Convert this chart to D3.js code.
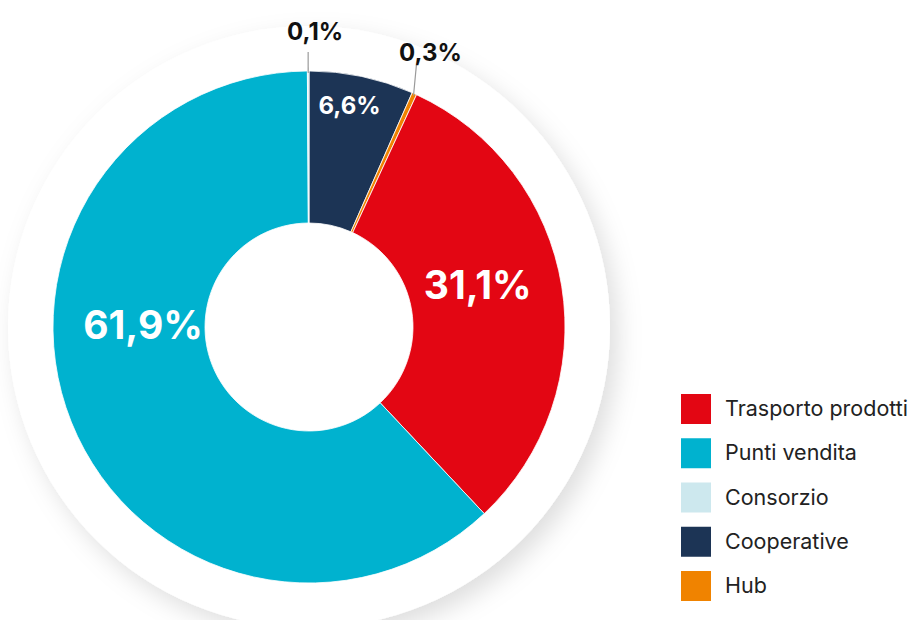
<!DOCTYPE html>
<html>
<head>
<meta charset="utf-8">
<script src="https://d3js.org/d3.v7.min.js"></script>
<style>
  body { margin: 0; background: #fff; }
  svg { display: block; font-family: Inter, "Noto Sans", sans-serif; }
</style>
</head>
<body>
<svg id="chart" width="913" height="620"></svg>
<script>
// slice order, clockwise from 12 o'clock
const sliceNames = ['Cooperative', 'Hub', 'Trasporto prodotti', 'Punti vendita', 'Consorzio'];
const sliceValues = [6.6, 0.3, 31.1, 61.9, 0.1];
const sliceColors = ['#1c3455', '#f08300', '#e30613', '#00b2cf', '#cde8ee'];

// legend order
const legendNames = ['Trasporto prodotti', 'Punti vendita', 'Consorzio', 'Cooperative', 'Hub'];

const fmt = v => v.toFixed(1).replace('.', ',') + '%';

// label placement per slice
const labelCfg = {
  'Cooperative':        { r: 225, da: -1.5, size: 24, inside: true },
  'Hub':                { inside: false, lineR: 283, da: -2, dx: 14, dy: -4, size: 24 },
  'Trasporto prodotti': { r: 174, da: -5, size: 39, inside: true },
  'Punti vendita':      { r: 166, da: 22.5, size: 39, inside: true },
  'Consorzio':          { inside: false, lineR: 275, da: 0, dx: 7, dy: -12, size: 24 }
};

const svg = d3.select('#chart');
const cx = 309, cy = 327;
const outerR = 256, innerR = 104, backR = 301;

const defs = svg.append('defs');
const shadow = defs.append('filter').attr('id', 'shadow')
  .attr('x', '-20%').attr('y', '-20%').attr('width', '140%').attr('height', '140%');
shadow.append('feDropShadow')
  .attr('dx', 8).attr('dy', 10).attr('stdDeviation', 12)
  .attr('flood-color', '#000').attr('flood-opacity', 0.13);

const g = svg.append('g').attr('transform', `translate(${cx},${cy})`);

// white backdrop disc
g.append('circle').attr('r', backR).attr('fill', '#fff').attr('filter', 'url(#shadow)');

const pie = d3.pie().sort(null).value(d => d.value);
const data = sliceNames.map((n, i) => ({ name: n, value: sliceValues[i], color: sliceColors[i] }));
const arcs = pie(data);

const arc = d3.arc().innerRadius(innerR).outerRadius(outerR);

g.selectAll('path.slice')
  .data(arcs)
  .enter()
  .append('path')
  .attr('class', 'slice')
  .attr('d', arc)
  .attr('fill', d => d.data.color)
  .attr('stroke', '#fff')
  .attr('stroke-width', 0.8);

const rad = a => a * Math.PI / 180;
const polar = (a, r) => [Math.sin(a) * r, -Math.cos(a) * r];

arcs.forEach(d => {
  const c = labelCfg[d.data.name];
  const mid = (d.startAngle + d.endAngle) / 2;
  if (c.inside) {
    const [x, y] = polar(mid + rad(c.da), c.r);
    g.append('text')
      .attr('x', x).attr('y', y)
      .attr('text-anchor', 'middle')
      .attr('dominant-baseline', 'central')
      .attr('font-size', c.size)
      .attr('font-weight', 700)
      .attr('fill', '#fff')
      .text(fmt(d.data.value));
  } else {
    const [x1, y1] = polar(mid, outerR - 2);
    const [x2, y2] = polar(mid + rad(c.da), c.lineR);
    g.append('line')
      .attr('x1', x1).attr('y1', y1)
      .attr('x2', x2).attr('y2', y2)
      .attr('stroke', '#9a9a9a').attr('stroke-width', 1.2);
    g.append('text')
      .attr('x', x2 + c.dx).attr('y', y2 + c.dy)
      .attr('text-anchor', 'middle')
      .attr('font-size', c.size)
      .attr('font-weight', 700)
      .attr('fill', '#111')
      .text(fmt(d.data.value));
  }
});

// legend
const legendY = d3.scalePoint().domain(legendNames).range([409, 586]);
const colorOf = d3.scaleOrdinal().domain(sliceNames).range(sliceColors);

const legend = svg.append('g').selectAll('g')
  .data(legendNames)
  .enter()
  .append('g')
  .attr('transform', d => `translate(681,${legendY(d)})`);

legend.append('rect')
  .attr('x', 0).attr('y', -15)
  .attr('width', 30).attr('height', 30)
  .attr('fill', d => colorOf(d));

legend.append('text')
  .attr('x', 44).attr('y', -1)
  .attr('dominant-baseline', 'central')
  .attr('font-size', 21.5)
  .attr('fill', '#222')
  .text(d => d);
</script>
</body>
</html>
